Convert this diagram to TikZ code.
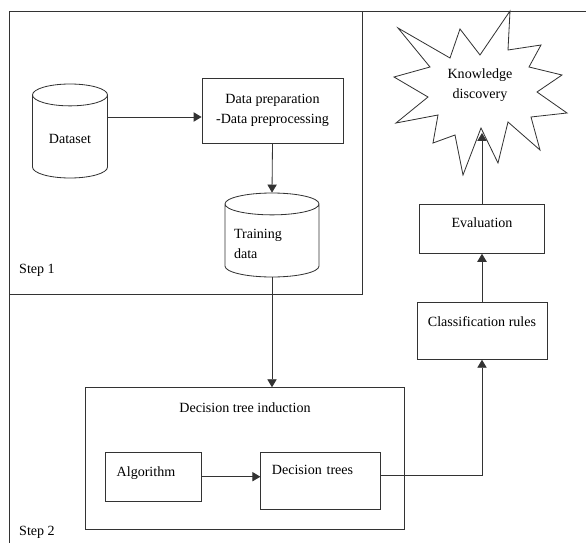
\documentclass[tikz,border=0pt]{standalone}
\usepackage{fontspec}
\setmainfont{Liberation Serif}
\usetikzlibrary{shapes.geometric,arrows.meta}

\tikzset{
  line/.style={draw=black!80, line width=0.7pt},
  box/.style={line, rectangle, align=center},
  store/.style={line, cylinder, shape border rotate=90, aspect=2.8, anchor=shape center},
  arr/.style={line, -{Triangle[length=2.4mm,width=2.8mm]}},
}

\begin{document}
\begin{tikzpicture}[x=0.3mm, y=-0.3mm, font=\fontsize{12}{17}\selectfont]
  \useasboundingbox (0,0) rectangle (586,543);

  % Frames of the two steps
  \draw[line] (586,11) -- (9,11) -- (9,543);
  \draw[line] (9,11) rectangle (362,294);
  \node[anchor=west, inner sep=0] (step1) at (19,270) {Step 1};
  \node[anchor=west, inner sep=0] (step2) at (19,532) {Step 2};

  % Step 1
  \node[store, minimum width=22.5mm, minimum height=28.2mm,
        label={center:Dataset}] (ds) at (70,131) {};
  \node[box, minimum width=42.3mm, minimum height=19.5mm] (prep) at (272.5,110.5)
    {Data preparation\\-Data preprocessing};
  \node[store, minimum width=28.2mm, minimum height=25.2mm,
        label={[yshift=-0.3mm, text width=22.8mm, align=left]center:Training\\data}] (train) at (272,235) {};

  % Step 2
  \node[box, minimum width=95.9mm, minimum height=42.5mm,
        label={[anchor=center, yshift=-6mm]north:Decision tree induction}] (dti) at (245,458.5) {};
  \node[box, minimum width=28.7mm, minimum height=14.6mm, inner xsep=0,
        text width=21.9mm, align=left, text depth=3.1mm] (alg) at (153.2,476.7) {Algorithm};
  \node[box, minimum width=35.9mm, minimum height=17mm, inner xsep=0,
        text width=29.2mm, align=left, text depth=6.4mm] (dt) at (320.6,480.7) {Decision trees};
  \node[box, minimum width=39mm, minimum height=17mm, text depth=5.6mm] (cls) at (482,331) {Classification rules};
  \node[box, minimum width=37.6mm, minimum height=14.8mm, text depth=3.6mm] (eval) at (482,228.7) {Evaluation};

  % Knowledge burst
  \draw[line] (510,11) -- (508,50) -- (541,45) -- (529,67) -- (562,75) -- (537,92)
    -- (567,113) -- (531,117) -- (540,150) -- (508,122) -- (498,163) -- (481,128)
    -- (463,175) -- (455,135) -- (433,143) -- (438,115) -- (396,123) -- (428,97)
    -- (394,77) -- (430,67) -- (398,28) -- (450,58) -- (460,29) -- (480,55) -- cycle;
  \node[align=center] (kd) at (480,85) {Knowledge\\discovery};

  % Connectors
  \coordinate (dsmid) at (ds.shape center -| ds.east);
  \coordinate (dsout) at ([yshift=4.2mm]dsmid);
  \coordinate (dtout) at ([yshift=1.7mm]dt.east);
  \coordinate (kdin) at (482,133);
  \draw[arr] (dsout) -- (dsout -| prep.west);
  \draw[arr] (prep.south) -- (train.north);
  \draw[arr] (train.south) -- (dti.north -| train.south);
  \draw[arr] (alg.east) -- (alg.east -| dt.west);
  \draw[arr] (dtout) -| (cls.south);
  \draw[arr] (cls.north) -- (eval.south);
  \draw[arr] (eval.north) -- (kdin);
\end{tikzpicture}
\end{document}
